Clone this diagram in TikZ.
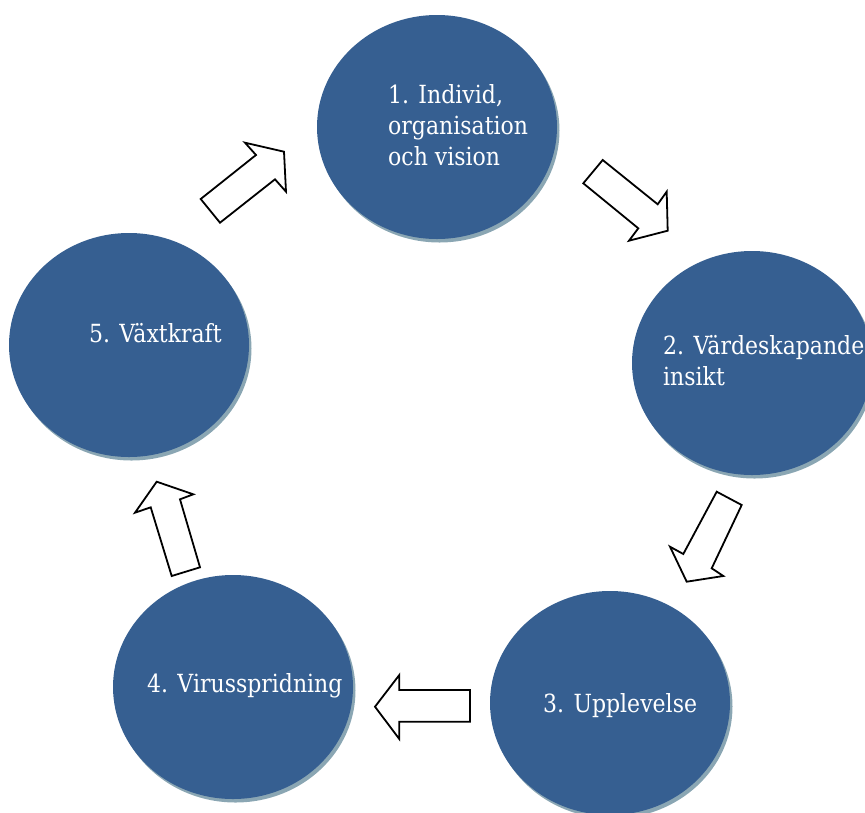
\documentclass[tikz,border=0pt]{standalone}
\usepackage{fontspec}
\setmainfont[FakeStretch=0.88]{DejaVu Serif}
\usetikzlibrary{shapes.geometric}
\definecolor{bubblecol}{RGB}{54,95,145}
\definecolor{shadowcol}{RGB}{138,166,179}
\tikzset{
  bubble/.style={ellipse, fill=bubblecol, inner sep=0pt, minimum width=240pt, minimum height=224pt,
    preaction={fill=shadowcol, transform canvas={xshift=2.5pt, yshift=-3.5pt}}},
  label/.style={anchor=base west, inner sep=0pt, text=white, align=left,
    font=\fontsize{25}{31}\selectfont},
  blockarrow/.style={draw=black, fill=white, line width=1.8pt, line join=miter}
}
\begin{document}
\begin{tikzpicture}[x=1pt, y=-1pt]
\useasboundingbox (0,0) rectangle (865,812);
% circles
\node[bubble] (c1) at (437,127) {};
\node[bubble] (c2) at (752,363) {};
\node[bubble] (c3) at (610,703) {};
\node[bubble] (c4) at (233,687) {};
\node[bubble] (c5) at (129,345) {};
% labels (base anchor = baseline of the last line)
\node[label] (t1) at (388,165) {1. Individ,\\organisation\\och vision};
\node[label] (t2) at (663,385) {2. Värdeskapande\\insikt};
\node[label] (t3) at (543,712) {3. Upplevelse};
\node[label] (t4) at (147,692) {4. Virusspridning};
\node[label] (t5) at (89,342) {5. Växtkraft};
% block arrows
\draw[blockarrow] (200.7,199) -- (256,155) -- (245,142.7) -- (284,151.7) -- (286,191.7) -- (275,179.3) -- (220,222.7) -- cycle;
\draw[blockarrow] (602.7,160) -- (657.7,204.3) -- (666.7,191.7) -- (667.7,230.7) -- (629,240.7) -- (638.3,228.3) -- (583.3,183.3) -- cycle;
\draw[blockarrow] (716.7,491.7) -- (741.7,505) -- (711.7,568.3) -- (723.3,576) -- (686.7,581.7) -- (670,546.7) -- (683.3,554) -- cycle;
\draw[blockarrow] (470,690) -- (470,721.7) -- (399.3,721.7) -- (399.3,739) -- (375,706.7) -- (399.3,675) -- (399.3,690) -- cycle;
\draw[blockarrow] (171.7,576) -- (200,567.3) -- (180,499.3) -- (193.3,494.3) -- (156.7,481.7) -- (135,512.7) -- (150.7,507.3) -- cycle;
\end{tikzpicture}
\end{document}
